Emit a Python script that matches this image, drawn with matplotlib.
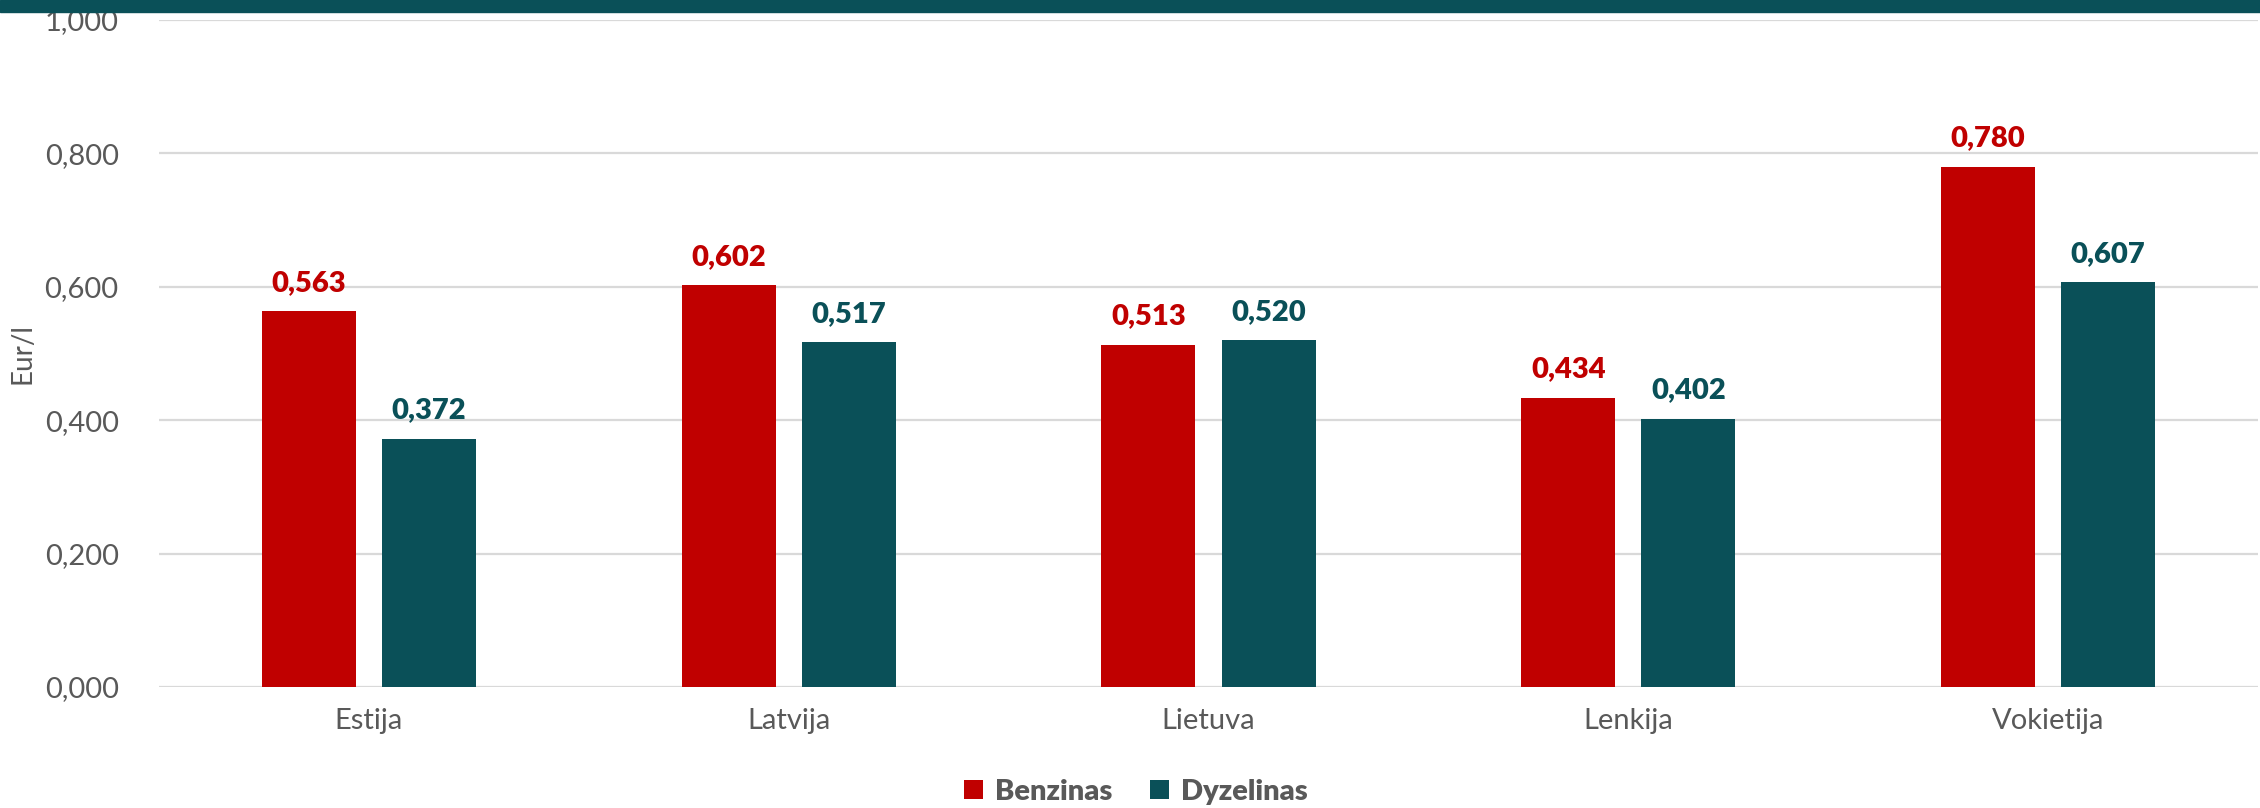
import matplotlib.pyplot as plt
import numpy as np

salys = ["Estija", "Latvija", "Lietuva", "Lenkija", "Vokietija"]
benzinas = [0.563, 0.602, 0.513, 0.434, 0.780]
dyzelinas = [0.372, 0.517, 0.520, 0.402, 0.607]
y_ticks = [0.0, 0.2, 0.4, 0.6, 0.8, 1.0]

RED = "#C00000"
TEAL = "#0A5058"
GREY = "#595959"

plt.rcParams["font.family"] = ["Lato", "DejaVu Sans"]

fig = plt.figure(figsize=(22.6, 8.08), dpi=100)
ax = fig.add_axes([159 / 2260, 121 / 808, 2099 / 2260, 667 / 808])

x = np.arange(len(salys))
w = 0.224
off = 0.143
b1 = ax.bar(x - off, benzinas, w, color=RED, label="Benzinas", zorder=3)
b2 = ax.bar(x + off, dyzelinas, w, color=TEAL, label="Dyzelinas", zorder=3)

for bars, vals, col in [(b1, benzinas, RED), (b2, dyzelinas, TEAL)]:
    for r, v in zip(bars, vals):
        ax.annotate(f"{v:.3f}".replace(".", ","), (r.get_x() + r.get_width() / 2, v),
                    xytext=(0, 11), textcoords="offset points", ha="center", va="bottom",
                    fontsize=21, fontweight="heavy", color=col)

ax.set_xlim(-0.5, len(salys) - 0.5)
ax.set_ylim(0, 1.0)
ax.set_yticks(y_ticks)
ax.set_yticklabels([f"{t:.3f}".replace(".", ",") for t in y_ticks])
ax.set_xticks(x)
ax.set_xticklabels(salys)
ax.tick_params(axis="y", length=0, pad=29, labelsize=21, labelcolor=GREY)
ax.tick_params(axis="x", length=0, pad=15, labelsize=21, labelcolor=GREY)
ax.grid(axis="y", color="#D9D9D9", linewidth=1.6, zorder=0)
for s in ax.spines.values():
    s.set_visible(False)
ax.axhline(0, color="#D9D9D9", linewidth=2, zorder=2)

ax.set_ylabel("Eur/l", fontsize=20, color=GREY)
ax.yaxis.set_label_coords(-0.059, 0.5)

leg = fig.legend(handles=[b1, b2], loc="center", bbox_to_anchor=(1136 / 2260, 1 - 792 / 808),
                 ncol=2, frameon=False, handlelength=0.65, handleheight=0.65,
                 handletextpad=0.4, columnspacing=1.3,
                 prop={"size": 21, "weight": "heavy"})
for t in leg.get_texts():
    t.set_color(GREY)

# juosta virsuje
fig.patches.append(plt.Rectangle((0, 1 - 12 / 808), 1, 12 / 808, transform=fig.transFigure,
                                 color=TEAL, zorder=10))

fig.savefig("out.png", dpi=100)
